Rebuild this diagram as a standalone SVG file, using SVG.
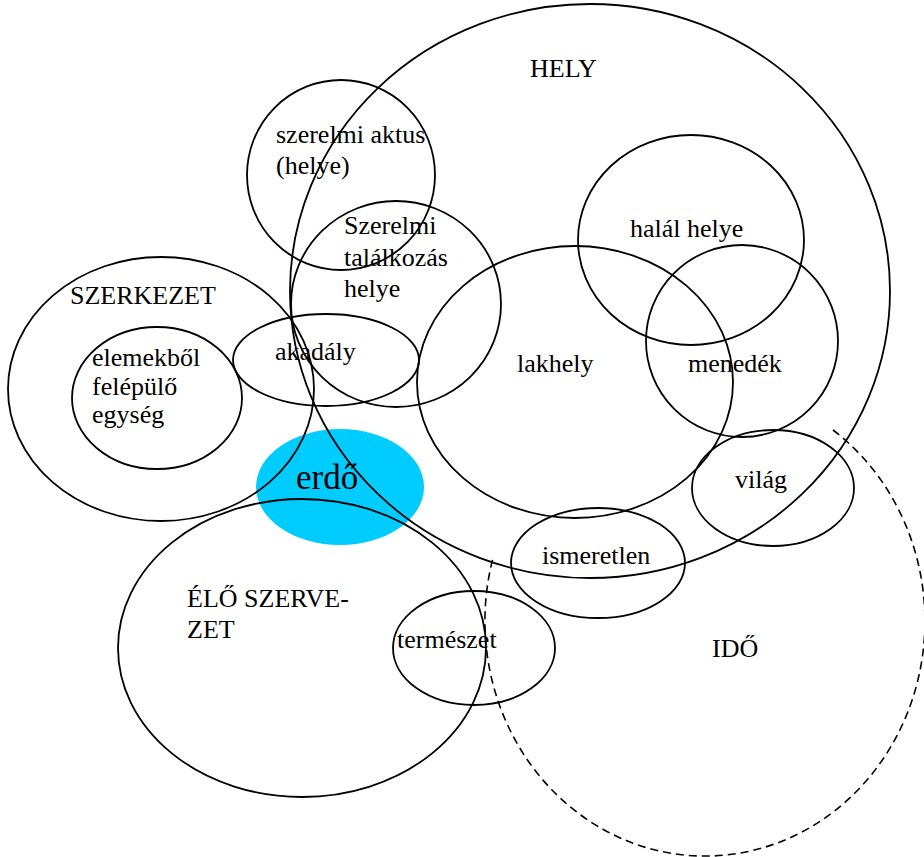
<svg xmlns="http://www.w3.org/2000/svg" width="924" height="857" viewBox="0 0 924 857">
<style>
.o{fill:none;stroke:#000;stroke-width:1.8}
.d{fill:none;stroke:#000;stroke-width:1.6;stroke-dasharray:8 5}
text{font-family:"Liberation Serif","Times New Roman",serif;font-size:26px;fill:#000}
.big{font-size:35px}
</style>
<rect width="924" height="857" fill="#fff"/>
<g id="erdo"><ellipse cx="340" cy="487" rx="84" ry="58" fill="#00CCFF"/><text class="big" x="296" y="489">erdő</text></g>
<g id="hely"><ellipse class="o" cx="590" cy="291" rx="300" ry="287"/><text x="530" y="77">HELY</text></g>
<g id="ido"><path class="d" d="M 833 430 A 220 235 0 1 1 493 558"/><text x="712" y="657">IDŐ</text></g>
<g id="szerelmi-aktus"><ellipse class="o" cx="341" cy="175" rx="94" ry="95"/><text x="276" y="143">szerelmi aktus</text><text x="276" y="174">(helye)</text></g>
<g id="szerelmi-talalkozas"><ellipse class="o" cx="396" cy="304" rx="105" ry="103"/><text x="344" y="234">Szerelmi</text><text x="344" y="266">találkozás</text><text x="344" y="297">helye</text></g>
<g id="halal-helye"><ellipse class="o" cx="691" cy="240" rx="113" ry="105"/><text x="630" y="237">halál helye</text></g>
<g id="szerkezet"><ellipse class="o" cx="161" cy="389" rx="153" ry="132"/><text x="70" y="304">SZERKEZET</text></g>
<g id="elemekbol"><ellipse class="o" cx="157" cy="398" rx="85" ry="71"/><text x="92" y="366">elemekből</text><text x="92" y="395">felépülő</text><text x="92" y="423">egység</text></g>
<g id="akadaly"><ellipse class="o" cx="326" cy="360" rx="93" ry="46"/><text x="275" y="360">akadály</text></g>
<g id="lakhely"><ellipse class="o" cx="575" cy="382" rx="158" ry="136"/><text x="517" y="372">lakhely</text></g>
<g id="menedek"><ellipse class="o" cx="742" cy="341" rx="96" ry="96"/><text x="688" y="372">menedék</text></g>
<g id="vilag"><ellipse class="o" cx="773" cy="488" rx="81" ry="58"/><text x="735" y="488">világ</text></g>
<g id="ismeretlen"><ellipse class="o" cx="598" cy="563" rx="87" ry="55"/><text x="542" y="564">ismeretlen</text></g>
<g id="elo-szervezet"><ellipse class="o" cx="302" cy="648" rx="184" ry="149"/><text x="187" y="607">ÉLŐ SZERVE-</text><text x="187" y="638">ZET</text></g>
<g id="termeszet"><ellipse class="o" cx="474" cy="648" rx="81" ry="57"/><text x="397" y="648">természet</text></g>
<g id="connectors"></g>
</svg>
